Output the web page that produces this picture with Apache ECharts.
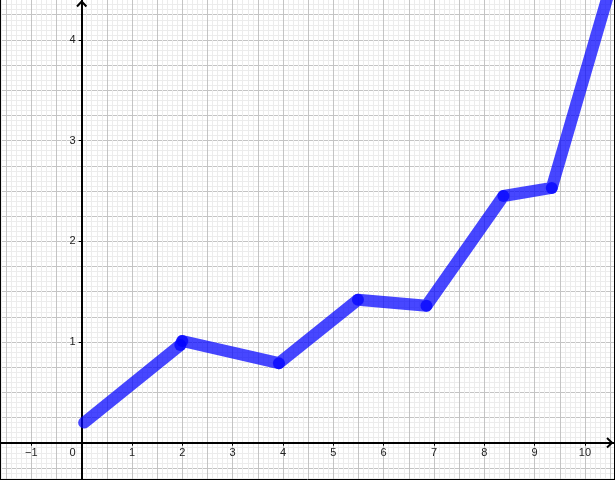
<!DOCTYPE html>
<html>
<head>
<meta charset="utf-8">
<script src="https://cdn.jsdelivr.net/npm/echarts@6/dist/echarts.min.js"></script>
<style>
html,body{margin:0;padding:0;background:#fff;}
#c{width:615px;height:480px;}
</style>
</head>
<body>
<div id="c"></div>
<script>
// data
var xValues = [0.05, 1.96, 2.0, 3.92, 5.49, 6.85, 8.38, 9.34, 10.55];
var yValues = [0.2, 0.97, 1.01, 0.79, 1.42, 1.36, 2.45, 2.53, 4.6];
var xTickLabels = [-1, 0, 1, 2, 3, 4, 5, 6, 7, 8, 9, 10];
var yTickLabels = [1, 2, 3, 4];

var points = xValues.map(function (x, i) { return [x, yValues[i]]; });
var blue = 'rgba(0,0,255,0.72)';
var minus = '\u2212';
var font = 'Liberation Sans';
var labelColor = '#222';

var chart = echarts.init(document.getElementById('c'), null, {renderer: 'canvas'});

function xLabel(v) {
  var r = Math.round(v);
  if (Math.abs(v - r) > 1e-6 || xTickLabels.indexOf(r) < 0) return '';
  if (r === 0) return '{z|0}';
  return r < 0 ? minus + Math.abs(r) : String(r);
}
function yLabel(v) {
  var r = Math.round(v);
  if (Math.abs(v - r) > 1e-6 || yTickLabels.indexOf(r) < 0) return '';
  return r < 0 ? minus + Math.abs(r) : String(r);
}

// grid is extended beyond the canvas so that axis minima are multiples of the intervals
var gridLeft = -19, gridRight = -20.3, gridTop = -60.8, gridBottom = -63.4;
var xAxisOffset = -(480 - gridBottom - 442.7);   // move labelled x axis up to y = 0
var yAxisOffset = -(81.7 - gridLeft);            // move labelled y axis right to x = 0

var option = {
  animation: false,
  backgroundColor: '#fff',
  grid: [{left: gridLeft, right: gridRight, top: gridTop, bottom: gridBottom, outerBoundsMode: 'none', containLabel: false}],
  xAxis: [
    {
      type: 'value', min: -2, max: 11, interval: 0.5, position: 'bottom',
      axisLine: {show: false, onZero: false}, axisTick: {show: false}, axisLabel: {show: false},
      splitLine: {show: true, lineStyle: {color: '#c4c4c4', width: 1}},
      minorTick: {show: false, splitNumber: 5},
      minorSplitLine: {show: true, lineStyle: {color: '#ececec', width: 1}},
      z: 0
    },
    {
      type: 'value', min: -2, max: 11, interval: 1, position: 'bottom', offset: xAxisOffset,
      axisLine: {show: true, onZero: false, lineStyle: {color: '#000', width: 2}},
      axisTick: {show: true, inside: false, length: 3, lineStyle: {color: '#000', width: 1}},
      axisLabel: {
        show: true, margin: 5, color: labelColor, fontSize: 11, fontFamily: font,
        formatter: xLabel,
        rich: {z: {fontSize: 11, color: labelColor, fontFamily: font, padding: [0, 18, 0, 0]}}
      },
      splitLine: {show: false}
    }
  ],
  yAxis: [
    {
      type: 'value', min: -1, max: 5, interval: 0.25, position: 'left',
      axisLine: {show: false, onZero: false}, axisTick: {show: false}, axisLabel: {show: false},
      splitLine: {show: true, lineStyle: {color: '#c4c4c4', width: 1}},
      minorTick: {show: false, splitNumber: 5},
      minorSplitLine: {show: true, lineStyle: {color: '#ececec', width: 1}},
      z: 0
    },
    {
      type: 'value', min: -1, max: 5, interval: 1, position: 'left', offset: yAxisOffset,
      axisLine: {show: true, onZero: false, lineStyle: {color: '#000', width: 2}},
      axisTick: {show: true, inside: false, length: 3, lineStyle: {color: '#000', width: 1}},
      axisLabel: {show: true, margin: 6, color: labelColor, fontSize: 11, fontFamily: font, formatter: yLabel},
      splitLine: {show: false}
    }
  ],
  series: [
    {
      type: 'line',
      xAxisIndex: 0, yAxisIndex: 0,
      data: points,
      clip: true,
      lineStyle: {color: blue, width: 12, cap: 'round', join: 'round'},
      symbol: 'circle',
      showSymbol: true,
      symbolSize: function (v, p) {
        return (p.dataIndex === 0 || p.dataIndex === points.length - 1) ? 0 : 12;
      },
      itemStyle: {color: blue, borderWidth: 0},
      z: 5
    }
  ],
  graphic: [
    {type: 'polyline', shape: {points: [[77, 6.5], [81.7, 1.5], [86.4, 6.5]]}, style: {stroke: '#000', lineWidth: 2, fill: null}, z: 100},
    {type: 'polyline', shape: {points: [[607, 438], [612, 442.7], [607, 447.4]]}, style: {stroke: '#000', lineWidth: 2, fill: null}, z: 100},
    {type: 'line', shape: {x1: 0.5, y1: 0, x2: 0.5, y2: 480}, style: {stroke: '#000', lineWidth: 1}, z: 100},
    {type: 'line', shape: {x1: 614.5, y1: 0, x2: 614.5, y2: 480}, style: {stroke: '#000', lineWidth: 1}, z: 100},
    {type: 'line', shape: {x1: 0, y1: 479.5, x2: 615, y2: 479.5}, style: {stroke: '#000', lineWidth: 1}, z: 100}
  ]
};
chart.setOption(option);
</script>
</body>
</html>
